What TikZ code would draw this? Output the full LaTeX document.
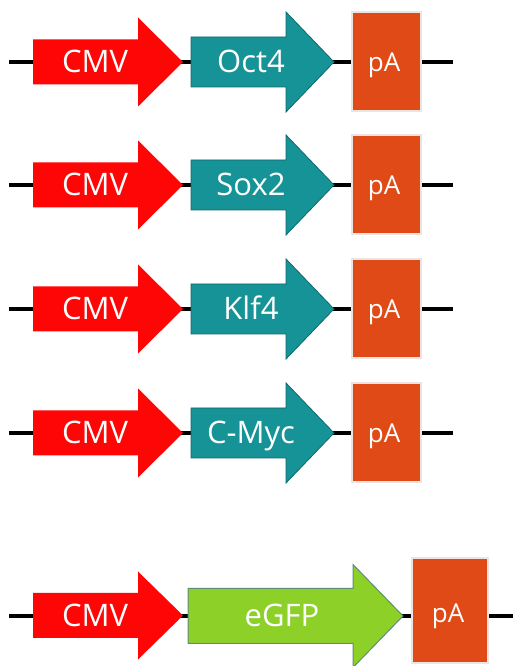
\documentclass[tikz,border=0pt]{standalone}
\usepackage{fontspec}
\setmainfont{Open Sans}
\definecolor{cmvred}{RGB}{255,6,6}
\definecolor{geneteal}{RGB}{22,147,150}
\definecolor{tealedge}{RGB}{16,104,108}
\definecolor{paorange}{RGB}{224,74,22}
\definecolor{paedge}{RGB}{236,228,224}
\definecolor{gfpgreen}{RGB}{140,208,40}
\definecolor{gfpedge}{RGB}{96,140,122}
\newcommand\dnaarrow[7]{%
  \path[#1] ({#2},{#5+#6}) -- ({#3},{#5+#6}) -- ({#3},{#5+#7}) -- ({#4},{#5})
    -- ({#3},{#5-#7}) -- ({#3},{#5-#6}) -- ({#2},{#5-#6}) -- cycle;}
\begin{document}
\begin{tikzpicture}[x=1pt,y=1pt,
  backbone/.style={line width=3.5pt,black},
  promoter/.style={fill=cmvred},
  genebox/.style={fill=geneteal,draw=tealedge,line width=0.8pt},
  gfpbox/.style={fill=gfpgreen,draw=gfpedge,line width=1pt},
  pabox/.style={fill=paorange,draw=paedge,line width=1.5pt},
  lbl/.style={text=white,inner sep=0pt,text height=22pt,text depth=0pt,font=\fontsize{31}{33}\selectfont},
  palbl/.style={text=white,inner sep=0pt,text height=19pt,text depth=0pt,font=\fontsize{26}{28}\selectfont}]
\useasboundingbox (0,0) rectangle (513,666);
\foreach \yc/\lab/\i in {604/Oct4/1,481/Sox2/2,357/Klf4/3,233/C-Myc/4}{
  \coordinate (l\i) at (9,\yc);
  \coordinate (r\i) at (453,\yc);
  \draw[backbone] (l\i) -- (r\i);
  \dnaarrow{promoter}{33}{138}{183}{\yc}{22.5}{44.5}
  \dnaarrow{genebox}{191}{286}{334}{\yc}{25}{50}
  \draw[pabox] (352,\yc-49) rectangle (421,\yc+50);
  \node[lbl] (cmv\i) at (95,\yc) {CMV};
  \node[lbl] (gene\i) at (251,\yc) {\lab};
  \node[palbl] (pa\i) at (384,\yc) {pA};
}
\coordinate (l5) at (9,50);
\coordinate (r5) at (513,50);
\draw[backbone] (l5) -- (r5);
\dnaarrow{promoter}{33}{138}{183}{50.5}{22.5}{44}
\dnaarrow{gfpbox}{188}{353}{403}{50}{27.5}{51.5}
\draw[pabox] (412,3) rectangle (488,108);
\node[lbl] (cmv5) at (95,50) {CMV};
\node[lbl] (gene5) at (282,50) {eGFP};
\node[palbl] (pa5) at (448,53) {pA};
\end{tikzpicture}
\end{document}
